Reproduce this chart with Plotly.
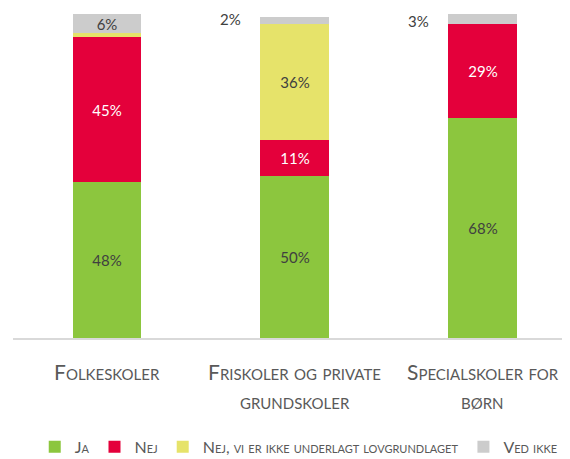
import plotly.graph_objects as go

categories = ["Folkeskoler", "Friskoler og private grundskoler", "Specialskoler for børn"]
category_lines = [["Folkeskoler"], ["Friskoler og private", "grundskoler"], ["Specialskoler for", "børn"]]
series_names = ["Ja", "Nej", "Nej, vi er ikke underlagt lovgrundlaget", "Ved ikke"]
ja = [48, 50, 68]
nej = [45, 11, 29]
nej_ikke_underlagt = [1, 36, 0]
ved_ikke = [6, 2, 3]

colors = ["#8CC63E", "#E4003B", "#E6E36A", "#CCCCCC"]
text_colors = ["#404040", "#FFFFFF", "#404040", "#404040"]
FONT = "Lato"

fig = go.Figure()
all_series = [ja, nej, nej_ikke_underlagt, ved_ikke]
for name, vals, col, tcol in zip(series_names, all_series, colors, text_colors):
    fig.add_trace(go.Bar(
        x=list(range(len(categories))), y=vals, name=name,
        marker=dict(color=col, line=dict(width=0)),
        width=0.367,
        text=[f"{v}%" if v >= 5 else "" for v in vals],
        textposition="inside", insidetextanchor="middle",
        textfont=dict(family=FONT, size=15, color=tcol),
        hoverinfo="skip",
    ))

# small outside labels for "Ved ikke"
for i, v in enumerate(ved_ikke):
    if v < 5:
        fig.add_annotation(x=i, y=100 - v / 2, xref="x", yref="y", text=f"{v}%",
                           showarrow=False, xanchor="right", yanchor="middle",
                           xshift=-52, yshift=-2,
                           font=dict(family=FONT, size=15, color="#404040"))

# category labels
for i, lines in enumerate(category_lines):
    for j, line in enumerate(lines):
        fig.add_annotation(x=i, y=0, xref="x", yref="paper", text=line,
                           showarrow=False, xanchor="center", yanchor="middle",
                           yshift=-33 - 29 * j,
                           font=dict(family=FONT, size=21, color="#595959", variant="small-caps"))

fig.update_layout(
    width=570, height=459,
    margin=dict(l=5, r=8, t=6, b=128),
    barmode="stack",
    plot_bgcolor="white", paper_bgcolor="white",
    uniformtext=dict(minsize=15, mode="show"),
    xaxis=dict(range=[-0.5, 2.463], showticklabels=False, showgrid=False, zeroline=False,
               showline=True, linecolor="#D9D9D9", linewidth=1.5, ticks=""),
    yaxis=dict(range=[0, 100], visible=False),
    legend=dict(orientation="h", x=0.513, xanchor="center", y=-0.332, yanchor="middle",
                font=dict(family=FONT, size=16, color="#595959", variant="small-caps"),
                itemwidth=30, traceorder="normal"),
    showlegend=True,
)

fig.write_html("out.html")
